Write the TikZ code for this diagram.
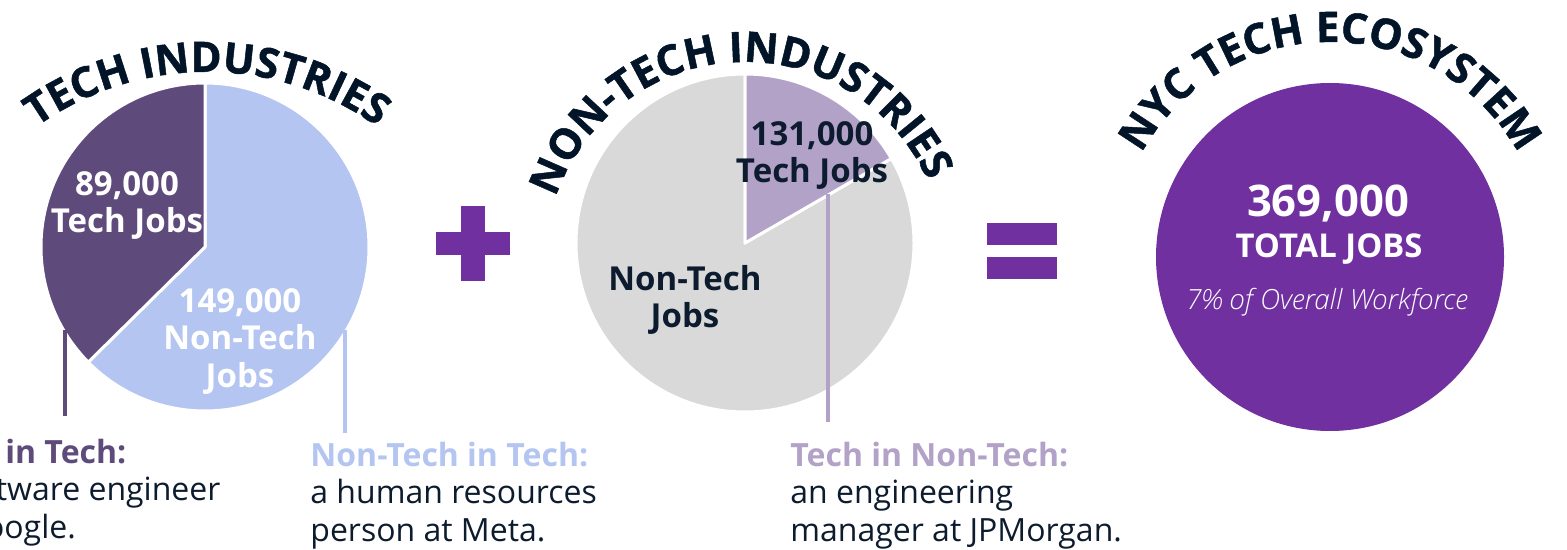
\documentclass[tikz,border=0pt]{standalone}
\usepackage{fontspec}
\setmainfont{Open Sans}
\newfontfamily\titlefont{Open Sans}[BoldFeatures={FakeBold=1.2}]
\newfontfamily\lightfont{Open Sans Light}
\usetikzlibrary{decorations.text}
\usetikzlibrary{positioning}

\definecolor{techdark}{HTML}{5F4B7B}
\definecolor{techlight}{HTML}{B3C5F0}
\definecolor{lavender}{HTML}{B3A2C8}
\definecolor{piegray}{HTML}{D9D9D9}
\definecolor{ecopurple}{HTML}{7030A0}
\definecolor{titlenavy}{HTML}{021428}
\definecolor{bodynavy}{HTML}{0C1B2E}

\newcommand{\arcfont}{\titlefont\bfseries\fontsize{21}{25}\selectfont}

\begin{document}
\begin{tikzpicture}[x=0.5pt, y=0.5pt,
	slice/.style={draw=white, line width=1.5pt, line join=round},
	leader/.style={line width=2.25pt},
	arctitle/.style={decorate, decoration={text along path, text align=center,
	                 text color=titlenavy, text={#1}}}]
	\useasboundingbox (0,0) rectangle (1567,-550);

	% pies
	\coordinate (tech) at (205,-247);
	\coordinate (nontech) at (745,-243);
	\coordinate (eco) at (1330,-257);
	\filldraw[slice, fill=techlight] (tech) -- ++(224.6:164) arc[start angle=224.6, end angle=450, radius=164] -- cycle;
	\filldraw[slice, fill=techdark] (tech) -- ++(90:164) arc[start angle=90, end angle=224.6, radius=164] -- cycle;
	\filldraw[slice, fill=piegray] (nontech) -- ++(90:169) arc[start angle=90, end angle=390, radius=169] -- cycle;
	\filldraw[slice, fill=lavender] (nontech) -- ++(30:169) arc[start angle=30, end angle=90, radius=169] -- cycle;
	\fill[ecopurple] (eco) circle[radius=174];

	% plus and equals
	\fill[ecopurple] (436,-232) rectangle (510,-255);
	\fill[ecopurple] (461,-206) rectangle (485,-281);
	\fill[ecopurple] (987,-223) rectangle (1057,-245);
	\fill[ecopurple] (987,-257) rectangle (1057,-279);

	% curved titles
	{\arcfont
	\path[arctitle={TECH INDUSTRIES}, shift={(207,-365)}] (160:293) arc[start angle=160, end angle=20, radius=293];
	\path[arctitle={NON-TECH INDUSTRIES}, shift={(745,-262)}] (175:200) arc[start angle=175, end angle=10, radius=200];
	\path[arctitle={NYC TECH ECOSYSTEM}, shift={(1330,-257)}] (170:215) arc[start angle=170, end angle=10, radius=215];
	}

	% base anchor sits on the last line
	\begin{scope}[every node/.style={font=\bfseries\fontsize{16.5}{18.75}\selectfont, align=center, anchor=base, inner sep=0pt}]
		\node[text=white] (techjobs) at (127,-233) {89,000\\Tech Jobs};
		\node[text=white] (techother) at (240,-387) {149,000\\Non-Tech\\Jobs};
		\node[text=bodynavy] (ntjobs) at (812,-183) {131,000\\Tech Jobs};
		\node[text=bodynavy] (ntother) at (685,-328) {Non-Tech\\Jobs};
	\end{scope}

	\begin{scope}[every node/.style={text=white, anchor=base, inner sep=0pt}]
		\node[font=\bfseries\fontsize{21.8}{25}\selectfont] (total) at (1328,-217) {369,000};
		\node[font=\bfseries\fontsize{16.4}{19}\selectfont] (totaljobs) at (1329,-258) {TOTAL JOBS};
		\node[font=\lightfont\itshape\fontsize{13.9}{16}\selectfont] (share) at (1327,-310) {7\% of Overall Workforce};
	\end{scope}

	% leader lines and examples
	\coordinate (tt top) at (65,-330);
	\coordinate (tt end) at (65,-416);
	\coordinate (nt top) at (345,-330);
	\coordinate (nt end) at (345,-433);
	\coordinate (tn top) at (828,-194);
	\coordinate (tn end) at (828,-422);
	\draw[leader, techdark] (tt top) -- (tt end);
	\draw[leader, techlight] (nt top) -- (nt end);
	\draw[leader, lavender] (tn top) -- (tn end);

	\begin{scope}[every node/.style={font=\fontsize{16}{18.75}\selectfont, align=left, anchor=base west, text=bodynavy, inner sep=0pt}]
		\node (ttlab) at (-76,-538) {\textcolor{techdark}{\bfseries Tech in Tech:}\\a software engineer\\at Google.};
		\node (ntlab) at (310,-541) {\textcolor{techlight}{\bfseries Non-Tech in Tech:}\\a human resources\\person at Meta.};
		\node (tnlab) at (790,-541) {\textcolor{lavender}{\bfseries Tech in Non-Tech:}\\an engineering\\manager at JPMorgan.};
	\end{scope}
\end{tikzpicture}
\end{document}
